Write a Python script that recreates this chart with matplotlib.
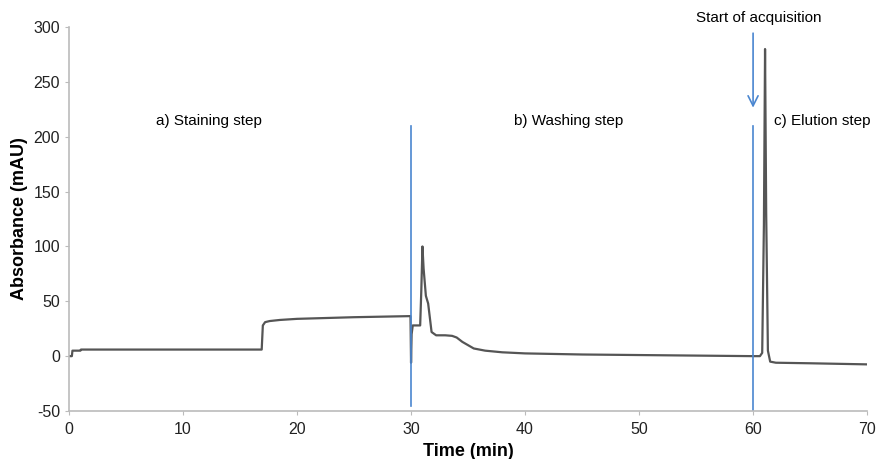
import numpy as np
import matplotlib.pyplot as plt

plt.rcParams['font.family'] = ['Liberation Sans', 'DejaVu Sans']
plt.rcParams['axes.unicode_minus'] = False

# chromatogram trace (time in min, absorbance in mAU)
time = [0, 0.25, 0.3, 1.0, 1.05, 10, 16.9, 17.0, 17.2, 17.6, 18.5, 20, 25, 29.95,
        30.0, 30.05, 30.15, 30.8, 30.9, 31.0, 31.1, 31.3, 31.5, 31.8, 32.2, 33.0,
        33.6, 34.0, 34.5, 35.0, 35.5, 36.5, 38, 40, 45, 50, 55, 60, 60.6, 60.8,
        60.95, 61.05, 61.15, 61.3, 61.5, 62, 65, 70]
absorb = [0, 0, 5, 5, 6, 6, 6, 28, 31, 32, 33, 34, 35.5, 36.5,
          -6, 20, 28, 28, 60, 100, 80, 55, 48, 22, 19, 19,
          18.5, 17, 13, 10, 7, 5, 3.5, 2.5, 1.5, 1, 0.5, 0, 0, 3,
          120, 280, 130, 5, -5, -6, -6.5, -7.5]

step_labels = ['a) Staining step', 'b) Washing step', 'c) Elution step']

fig = plt.figure(figsize=(8.77, 4.59), dpi=100)
ax = fig.add_axes([0.0787, 0.1046, 0.91, 0.8364])

ax.plot(time, absorb, color='#555555', lw=1.6)

blue = '#4a86d0'
ax.plot([30, 30], [210, -45], color=blue, lw=1.2)
ax.plot([60, 60], [210, -50], color=blue, lw=1.2)
ax.annotate('', xy=(60, 224), xytext=(60, 297),
            arrowprops=dict(arrowstyle='->', color=blue, lw=1.2,
                            mutation_scale=18))

ax.text(12.3, 214, step_labels[0], ha='center', va='center', fontsize=11)
ax.text(43.8, 214, step_labels[1], ha='center', va='center', fontsize=11)
ax.text(61.8, 214, step_labels[2], ha='left', va='center', fontsize=11)
ax.text(60.5, 308, 'Start of acquisition', ha='center', va='center',
        fontsize=11, clip_on=False)

ax.set_xlim(0, 70)
ax.set_ylim(-50, 300)
ax.set_xticks(np.arange(0, 71, 10))
ax.set_yticks(np.arange(-50, 301, 50))
ax.set_xlabel('Time (min)', fontsize=13, fontweight='bold', labelpad=4)
ax.set_ylabel('Absorbance (mAU)', fontsize=13, fontweight='bold', labelpad=4)

for s in ['top', 'right']:
    ax.spines[s].set_visible(False)
for s in ['left', 'bottom']:
    ax.spines[s].set_color('#bbbbbb')
    ax.spines[s].set_linewidth(1.2)
ax.tick_params(colors='#bbbbbb', labelcolor='#222222', labelsize=11.5, length=3)
ax.tick_params(axis='x', pad=5)

fig.savefig('out.png', dpi=100)
